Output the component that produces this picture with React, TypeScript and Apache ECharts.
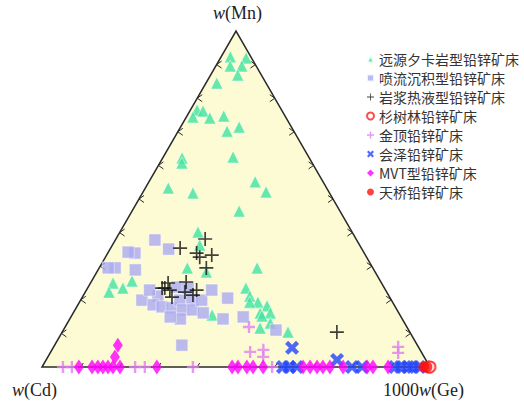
import React, { useEffect, useRef } from "react";
import * as echarts from "echarts";

// Ternary compositions in percent: [w(Mn), 1000w(Ge)]; w(Cd) = 100 - Mn - Ge
const skarnDistal: number[][] = [
  [92.3, 2.4], [92.0, 6.6], [89.6, 3.7], [89.6, 6.7], [86.9, 7.0], [84.5, 2.8],
  [76.5, 1.7], [76.2, 3.4], [74.4, 1.7], [74.1, 6.2], [74.7, 9.5], [70.2, 12.6],
  [71.4, 15.1], [62.5, 18.0], [62.2, 5.0], [60.7, 5.7], [53.3, 5.9], [51.8, 13.0],
  [55.1, 27.4], [52.1, 31.7], [46.4, 27.6], [40.2, 20.1], [36.3, 22.5], [29.5, 22.7],
  [29.5, 40.7], [25.0, 5.8], [22.3, 6.1], [23.5, 9.1], [25.6, 10.4], [28.3, 28.2],
  [23.5, 40.8], [21.1, 43.0], [19.3, 46.0], [18.2, 48.9], [16.1, 48.2], [16.1, 50.8],
  [15.2, 49.1], [11.6, 50.4], [13.1, 52.3], [10.4, 58.2], [15.5, 36.1], [19.3, 43.9],
];
const sedex: number[][] = [
  [37.8, 10.2], [35.1, 15.1], [33.9, 7.0], [34.2, 5.1], [29.5, 4.1], [29.5, 2.3],
  [28.9, 9.6], [19.9, 15.8], [21.1, 19.3], [18.5, 19.4], [17.9, 22.0], [17.6, 24.7],
  [19.9, 25.6], [23.8, 22.9], [23.5, 25.9], [19.9, 28.7], [17.0, 27.8], [17.0, 30.4],
  [19.9, 31.2], [22.9, 32.3], [16.1, 33.5], [14.3, 28.5], [14.9, 25.6], [20.5, 37.6],
  [14.3, 39.5], [14.9, 44.4], [11.0, 54.8], [6.5, 32.8], [22.9, 16.3],
];
const magmatic: number[][] = [
  [38.1, 23.0], [35.4, 17.9], [33.9, 22.9], [32.7, 24.3], [33.3, 27.1], [29.5, 27.6],
  [25.0, 20.0], [23.5, 19.9], [22.9, 21.5], [20.8, 23.1], [23.5, 19.2], [25.3, 24.5],
  [22.3, 25.7], [22.9, 28.4], [21.4, 28.2], [10.4, 70.8],
];
const shanshulin: number[][] = [[0, 99.6], [0, 100]];
const jinding: number[][] = [
  [11.9, 47.4], [4.5, 51.4], [5.1, 54.5], [3.0, 55.5], [6.0, 88.8], [4.2, 89.7],
  [0, 5.4], [0, 7.7], [0, 24.0], [0, 26.5], [0, 38.9], [0, 59.3],
];
const huize: number[][] = [
  [5.7, 61.6], [2.1, 75.0], [0, 62.1], [0, 63.7], [0, 65.7], [0, 79.9], [0, 82.5],
  [0, 91.0], [0, 92.5], [0, 94.3], [0, 95.6], [0, 97.2],
];
const mvt: number[][] = [
  [6.5, 16.3], [3.0, 17.3], [0, 9.5], [0, 12.9], [0, 14.4], [0, 15.7], [0, 17.0],
  [0, 18.3], [0, 20.1], [0, 29.6], [0, 49.0], [0, 50.5], [0, 52.8], [0, 54.4],
  [0, 57.0], [0, 67.3], [0, 69.1], [0, 70.9], [0, 72.4], [0, 74.2], [0, 77.6],
  [0, 83.8], [0, 85.3], [0, 89.2],
];
const tianqiao: number[][] = [[0, 98.4], [0, 99.2]];

const seriesNames = [
  "远源夕卡岩型铅锌矿床",
  "喷流沉积型铅锌矿床",
  "岩浆热液型铅锌矿床",
  "杉树林铅锌矿床",
  "金顶铅锌矿床",
  "会泽铅锌矿床",
  "MVT型铅锌矿床",
  "天桥铅锌矿床",
];
const tickFractions = [0.1, 0.2, 0.3, 0.4, 0.5, 0.6, 0.7, 0.8, 0.9];

const H = Math.sqrt(3) / 2;
const toXY = (d: number[]) => [(d[1] + d[0] / 2) / 100, (d[0] / 100) * H];

const PLUS_THIN = "path://M4.4,0H5.6V4.4H10V5.6H5.6V10H4.4V5.6H0V4.4H4.4Z";
const PLUS_THICK = "path://M4,0H6V4H10V6H6V10H4V6H0V4H4Z";
const XMARK = "path://M0,2.2L2.2,0L5,2.8L7.8,0L10,2.2L7.2,5L10,7.8L7.8,10L5,7.2L2.2,10L0,7.8L2.8,5Z";

export default function App() {
  const ref = useRef<HTMLDivElement>(null);
  useEffect(() => {
    if (!ref.current) return;
    const chart = echarts.init(ref.current, undefined, { renderer: "svg" });
    const frame = {
      type: "custom",
      name: "frame",
      silent: true,
      z: 1,
      data: [0],
      renderItem: (_p: any, api: any) => {
        const a = api.coord([0, 0]);
        const b = api.coord([1, 0]);
        const c = api.coord([0.5, H]);
        const children: any[] = [
          {
            type: "polygon",
            shape: { points: [a, b, c] },
            style: { fill: "#fdfbd3", stroke: "#2a2a2a", lineWidth: 1.5 },
          },
        ];
        tickFractions.forEach((t) => {
          const pl = api.coord([0.5 * t, H * t]);
          children.push({
            type: "polyline",
            shape: { points: [[pl[0] + 5, pl[1] - 3.5], [pl[0], pl[1]], [pl[0] + 5, pl[1] + 3.5]] },
            style: { fill: null, stroke: "#2a2a2a", lineWidth: 1 },
          });
          const pr = api.coord([1 - 0.5 * t, H * t]);
          children.push({
            type: "polyline",
            shape: { points: [[pr[0] - 5, pr[1] - 3.5], [pr[0], pr[1]], [pr[0] - 5, pr[1] + 3.5]] },
            style: { fill: null, stroke: "#2a2a2a", lineWidth: 1 },
          });
          const pb = api.coord([t, 0]);
          children.push({
            type: "line",
            shape: { x1: pb[0], y1: pb[1], x2: pb[0] + 2.5, y2: pb[1] - 4 },
            style: { stroke: "#2a2a2a", lineWidth: 1 },
          });
        });
        return { type: "group", children };
      },
    };
    const sc = (name: string, data: number[][], symbol: string, size: any, color: string, extra: any = {}) => ({
      type: "scatter",
      name,
      z: 3,
      data: data.map(toXY),
      symbol,
      symbolSize: size,
      itemStyle: { color, ...(extra.itemStyle || {}) },
    });
    chart.setOption({
      animation: false,
      backgroundColor: "#ffffff",
      grid: { left: 42, top: 31, width: 388, height: 336 },
      xAxis: { type: "value", min: 0, max: 1, show: false },
      yAxis: { type: "value", min: 0, max: H, show: false },
      legend: {
        orient: "vertical",
        left: 361,
        top: 47,
        itemGap: 5,
        itemWidth: 7,
        itemHeight: 7,
        data: seriesNames,
        textStyle: { fontFamily: "Noto Sans CJK SC", fontSize: 14, lineHeight: 14, color: "#333" },
      },
      graphic: [
        {
          type: "text",
          left: 213,
          top: 4,
          style: {
            text: "{i|w}(Mn)",
            fontFamily: "Liberation Serif",
            fontSize: 18,
            fill: "#222",
            rich: { i: { fontStyle: "italic", fontFamily: "Liberation Serif", fontSize: 18, fill: "#222" } },
          },
        },
        {
          type: "text",
          left: 12,
          top: 381,
          style: {
            text: "{i|w}(Cd)",
            fontFamily: "Liberation Serif",
            fontSize: 18,
            fill: "#222",
            rich: { i: { fontStyle: "italic", fontFamily: "Liberation Serif", fontSize: 18, fill: "#222" } },
          },
        },
        {
          type: "text",
          left: 383,
          top: 381,
          style: {
            text: "1000{i|w}(Ge)",
            fontFamily: "Liberation Serif",
            fontSize: 18,
            fill: "#222",
            rich: { i: { fontStyle: "italic", fontFamily: "Liberation Serif", fontSize: 18, fill: "#222" } },
          },
        },
      ],
      series: [
        frame,
        sc(seriesNames[0], skarnDistal, "triangle", 12, "#3fe4a0", { itemStyle: { borderColor: "#ffffff", borderWidth: 0.6 } }),
        sc(seriesNames[1], sedex, "rect", 12, "#aaaaf0", { itemStyle: { borderColor: "#ffffff", borderWidth: 0.6 } }),
        sc(seriesNames[2], magmatic, PLUS_THIN, 14, "#111111"),
        sc(seriesNames[3], shanshulin, "emptyCircle", 11, "#ff2020", { itemStyle: { borderColor: "#ff2020", borderWidth: 1.5 } }),
        sc(seriesNames[4], jinding, PLUS_THICK, 12, "#e080f0"),
        sc(seriesNames[5], huize, XMARK, 14, "#2244ff"),
        sc(seriesNames[6], mvt, "diamond", [10, 15], "#ff00ff"),
        sc(seriesNames[7], tianqiao, "circle", 11, "#ff1010"),
      ],
    });
    return () => chart.dispose();
  }, []);
  return (
    <div
      ref={ref}
      style={{ position: "fixed", left: 0, top: 0, width: 524, height: 401 }}
    />
  );
}
